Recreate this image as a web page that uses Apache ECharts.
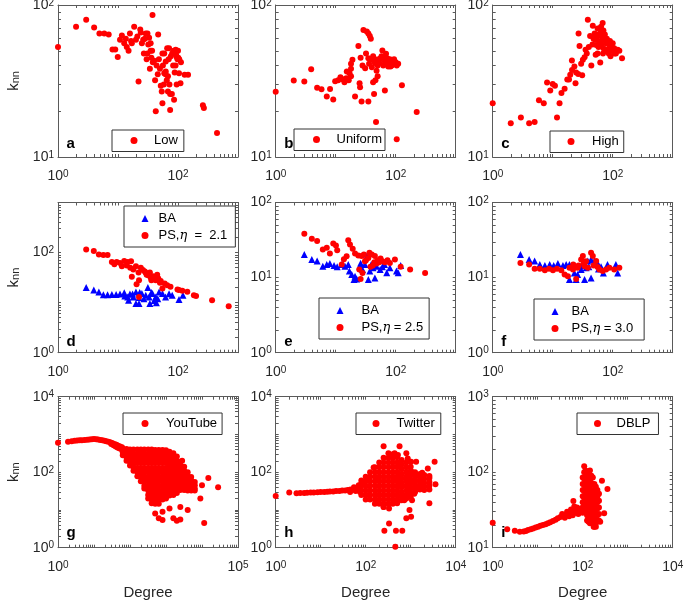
<!DOCTYPE html>
<html>
<head>
<meta charset="utf-8">
<script src="https://cdn.jsdelivr.net/npm/echarts@6/dist/echarts.min.js"></script>
<style>
  html, body { margin: 0; padding: 0; background: #fff; }
  #chart { width: 685px; height: 601px; }
</style>
</head>
<body>
<div id="chart"></div>
<script>
// ---- data (degree, k_nn) ----
const lowData = [
  [1,53],[2,72],[2.95,80],[4,71],[4.9,65],[5.9,65],[7,64],[8.1,51],[9,51],[9.9,45.5],
  [10.8,59],[11.6,63],[12.7,56],[13.5,60],[14,53],[15,50],[15.8,65],[16.5,58],[17,56],[18.6,72],
  [19.9,59],[21,62],[22,31.4],[23.5,69],[24,66],[25,56],[26.3,59],[27,48],[28,60],[29,65],
  [30,44],[31,65],[31,48],[32,55],[33,61],[34,38],[35,56],[35,50],[36,45],[37,50],
  [37.6,86],[38,42],[40,43],[41.5,32],[42.6,20],[44,40],[46,35],[46.7,64],[48,44],[50,38],
  [51.6,29.4],[53.6,27],[55,22.6],[55,48],[56,40],[58,30],[59,48],[59,35.5],[62,35],[62.5,42.5],
  [62.5,36.5],[65,32],[66,52],[68,27],[68,34],[70,44],[71,52],[72,30],[74,20.4],[74,26],
  [76,46],[79,26],[80,48],[83,40],[85,50],[86,23.8],[88,36],[91,40],[91.6,50.7],[93,47],
  [95,45.5],[95,30],[98,44],[100,50],[101,45],[104,35.5],[105,44],[110,30.6],[112,42],[129,34.7],
  [147,34.7],[260,21.9],[270,21],[447,14.4]
];
const uniformData = [
  [1,26.9],[2,31.9],[3,31.4],[3.9,37.8],[4.9,28.6],[5.8,27.9],[7.1,25],[8.05,28],[9.1,23.9],[9.8,31.5],
  [11,32],[12,33.5],[13,32.5],[14,31],[15,33],[15.3,36.5],[16.5,32],[17,35.5],[18,34],[18,38],
  [18,41],[19,43.6],[21,25],[23.9,53.8],[25,30.6],[25.5,28.8],[26,45],[27,23.2],[28,40],[29,68.5],
  [31,38.4],[32,48],[33,67],[35,65],[35,44.7],[35,23.2],[36,41],[37,62.5],[38.5,60],[40,43.6],
  [40,39],[42,46],[42,31],[43.6,26],[45,41.5],[45,44],[46,32],[47,17],[48,37],[50,34],
  [50,40],[52,44],[53.5,41.5],[56,44.7],[58,46],[60,50.1],[62,40],[64,45],[66,42.5],[66,27.4],
  [69,47.8],[70,41],[72,44.7],[75,39.4],[76,42.5],[80,44],[82,39.4],[86,40],[88,43],[92,41],
  [94,44],[97,41],[100,42],[104,40],[110,41],[127,29.7],[104,13.1],[224,19.8]
];
const highData = [
  [1,22.6],[2,16.7],[2.95,18.2],[4.05,16.7],[5,17],[5.9,23.6],[7.1,22.6],[8.05,30.9],[9.1,27.4],[10,30.2],
  [10.9,29.4],[11.8,18.2],[13,22.6],[14,26.4],[15.8,28.1],[17.5,32.3],[18.7,32.3],[19.6,34.7],[21,37.4],[23,39.4],
  [24,30.6],[24.6,36],[26.6,35.2],[20.9,43.2],[27,65],[28,53.8],[29.8,41],[31.8,43.6],[34,45.3],[31,34.5],
  [35.3,50.7],[37,48],[38.5,80],[40,53],[42,62.5],[44,40],[46.6,73],[50,65],[51.5,59],[53,54.5],
  [56,70],[58,53],[60,56],[64,67],[66,62],[69,48],[72,59],[78,56],[82,50.7],[88,53],
  [94,50],[100,56],[106,52],[113,48],[121,50.7],[129,50],[143,44.7],[62,41.8],[68,76],[64,72],
  [48,60],[55,62],[58,64],[62,58],[66,55],[70,52],[74,64],[80,60],[84,56],[90,58],
  [96,54],[76,50],[86,48],[92,46],[102,50],[108,48],[56,48],[52,47],[60,70],[70,68],[46,55]
];
const baD = [
  [2.95,20],[3.95,17.8],[4.8,16.4],[5.7,14.3],[6.7,14.3],[7.9,14.5],[9.3,14.5],[10.8,14.8],[12.7,15.7],[13,13.5],
  [14.5,13],[15,11.2],[15.8,14.8],[17.5,14.8],[18,13],[19.9,16.4],[19.9,9.6],[22.4,9.6],[22.4,12.7],[23,16],
  [25,15.2],[27,12],[29,14.1],[31.5,20],[33,13],[34,9.6],[36,16],[37.6,15.2],[40,11],[42.6,13],
  [43.6,9.9],[46,12],[48.4,16.4],[55,15.2],[62,13],[71,15],[80,14],[104,11.6],[121,14]
];
const psD = [
  [2.95,115],[3.95,108],[4.8,91],[5.7,89],[6.7,89],[7.9,65],[8.7,58.5],[9.5,65],[10.8,62],[11.6,53],
  [12.7,68],[14,55],[14.5,65],[16,50],[16.5,67],[17,33],[18,46],[19.9,53],[20.4,23.4],[22,40],
  [22.4,28],[22.4,13],[24,50],[26,45],[28,42],[29,39.3],[30,36],[32,35.3],[34,40],[35,31.8],
  [36,28],[38.5,33.8],[40,32],[42.6,28],[44,30],[45,36],[47,30.3],[50,25],[51.6,27.2],[55,19.2],
  [60,24],[66,22.3],[75,20.7],[98,18.3],[104,17.8],[118,17.2],[143,16.5],[184,14],[200,13.5],[370,11.2],
  [700,8.5]
];
const baE = [
  [3,20.3],[4,17.4],[4.9,16.6],[6.1,14.2],[7.1,14.9],[8,15.4],[9.4,14.5],[10.6,13.9],[12.6,14.9],[14.3,14.2],
  [16.2,14.9],[16.9,12.2],[18.5,11],[20.2,9.4],[21,10.4],[22.4,9.6],[25.5,14.2],[26,15.5],[28,12.8],[30.7,14.9],
  [33,19.4],[35,9.4],[37,12.2],[39,15],[42,13.5],[45,9.9],[48,14.2],[55,12.8],[60,14],[65,15],
  [71,11.6],[80,13.5],[103,12.2],[110,11.6],[121,14.5]
];
const psE = [
  [3,38.5],[4,33],[4.9,30.7],[6.1,23.7],[7.1,25],[8,21],[9.1,28.5],[10.1,26.8],[10.6,23.2],[12.6,14.9],
  [13.7,17.5],[15.2,19.3],[16.2,31.5],[17.3,27.6],[19.2,24.2],[21,21],[23.8,19.7],[24.7,12.8],[26,9.6],[27,19.4],
  [28,11.5],[29.5,20.3],[30.7,16.5],[32,17],[35,18.3],[36.5,21.4],[38,14],[40,20.3],[41.5,14.5],[44,16],
  [45,19.4],[48,15.4],[50,17],[53,16],[56,18],[60,16.5],[66,16],[73,17],[80,15.7],[97,17.4],
  [121,13.9],[174,12.8],[309,11.5]
];
const baF = [
  [2.9,20.3],[4.05,17.4],[5,16.6],[6.1,14.9],[7.4,14.5],[8.9,14.9],[10.4,14.5],[12.2,15.4],[14.8,14.5],[16.8,14.9],
  [19,14.9],[19,9.4],[23,11.5],[24.6,9.4],[26,11],[29.8,12.8],[31,14.5],[34,9.4],[36,13.5],[38.5,16.6],
  [40,14],[43.6,17.4],[43.6,9.9],[49.5,16.6],[56,15.7],[58,13],[64,14],[70,11.5],[82,14.9],[113,14.9],
  [121,11.5]
];
const psF = [
  [2.9,15.7],[4.05,14.9],[5,13.1],[6.1,13.1],[7.4,12.5],[8.7,13.1],[10.1,12.5],[11.8,13.1],[13.9,12.5],[15.8,11],
  [17.9,10.4],[19,13.5],[21.8,12.8],[22,15],[24.6,9.6],[26,13.5],[27,14.5],[29.8,17.4],[31.8,19.4],[33,15.5],
  [34,14.2],[36,16.5],[38.5,13.5],[43.6,21.4],[46.6,19.4],[48,14.5],[53,16.6],[56,13.8],[60,12.8],[68,12.2],
  [77.6,12.8],[88,13.5],[106,12.8],[129,13.5]
];
// empirical networks: the leading strand, then the cloud as columns [degree, [k_nn ...]], then stray points
const youtubeLine = [
  [1,600],[1.9,640],[2.4,660],[2.9,680],[3.4,690],[4,700],[4.6,705],[5.5,710],[6.5,720],[7.5,740],
  [8.7,745],[10,760],[11.5,750],[13,730],[15,715],[17,700],[19.5,680],[22,660],[25,640],[28,620],
  [32,590],[37,560],[42,530],[47,500],[53,480],[60,460],[30,560],[35,520],[40,480],[45,450],[50,430],[56,410]
];
const youtubeCloud = [
  [63,[420,340,280]],
  [80,[410,320,250,200]],
  [100,[400,310,240,185,150]],
  [125,[400,300,230,175,135,110]],
  [160,[400,300,230,175,130,100,78]],
  [200,[400,300,230,175,130,100,76,58]],
  [250,[400,300,230,175,130,100,76,58,44,37]],
  [320,[400,300,230,175,130,100,76,58,44,33,25,20]],
  [400,[400,300,230,175,130,100,76,58,44,33,25,19,15]],
  [500,[390,300,230,175,130,100,76,58,44,33,25,19,14.5,8]],
  [630,[390,300,230,175,130,100,76,58,44,33,25,19,14.5,6]],
  [800,[390,300,230,175,130,100,76,58,44,33,25,19,9,5.4]],
  [1000,[380,300,230,175,130,100,76,58,44,33,25,20]],
  [1250,[350,270,210,160,125,95,72,55,42,32,24,11]],
  [1600,[316,250,190,150,115,88,68,52,40,31,25,6]],
  [2000,[260,200,155,120,92,70,54,42,33,28,5.2]],
  [2500,[190,150,115,90,70,54,42,34,12,5.6]],
  [3200,[140,110,85,66,52,41,34]],
  [4000,[100,80,62,48,38,33,10]],
  [5000,[75,60,47,38,33]],
  [6300,[55,45,37,33]]
];
const youtubeStray = [[2800,200],[10000,45],[9000,20],[15000,70],[28000,40],[11500,4.5]];

const twitterLine = [
  [1,23.4],[2,29],[2.9,27.5],[3.5,28],[4.3,28],[5,28.5],[6,29],[7,29],[8.5,29.5],[10,30],
  [12,30],[14,30.5],[16,31],[19,31],[22,32],[26,32],[30,33],[35,33],[40,34],[46,35],
  [52,35],[58,36],[65,37],[45,30],[55,40],[60,32],[70,45],[75,30],[80,50]
];
const twitterCloud = [
  [80,[60,44,33,25]],
  [100,[76,58,44,33,25,19]],
  [125,[100,76,58,44,33,25,19]],
  [160,[135,100,76,58,44,33,25,19,14.5]],
  [200,[180,135,100,76,58,44,33,25,19,14.5]],
  [250,[240,180,135,100,76,58,44,33,25,19,14.5,12]],
  [320,[320,240,180,135,100,76,58,44,33,25,19,14.5]],
  [400,[300,240,180,135,100,76,58,44,33,25,19,14.5]],
  [500,[250,180,135,100,76,58,44,33,25,19,15]],
  [630,[210,160,120,90,68,52,40,30,23,18]],
  [800,[180,135,100,76,58,44,33,25,20]],
  [1000,[140,110,84,64,50,38,29,22]],
  [1250,[100,80,62,48,38,30]],
  [1600,[90,72,56,44,35]],
  [2000,[84,66,52,42,34]],
  [2600,[70,55,44,35]]
];
const twitterStray = [
  [250,490],[565,490],[440,316],[520,285],[800,316],[860,230],[150,134],[1020,190],[1320,190],[1800,97],
  [2400,126],[2600,79],[3400,190],[3550,48],[2600,15],[250,12],[330,11],[800,6],[1020,6.6],[940,10],
  [330,4.4],[260,2.8],[470,2.8],[650,2.8],[455,1.06],[720,18],[1070,18],[1200,27],[1100,100]
];

const dblpLine = [
  [1,21.4],[2.1,17.5],[3.1,16.8],[4,16.3],[4.9,16.4],[5.5,16.6],[6.1,17.1],[7,17.5],[7.9,18],[9,18.5],
  [10.2,19],[11.5,19.5],[13.1,20],[15,20.5],[16.9,21],[19,21.7],[21.8,22.5],[25,23.5],[28,24.5],[32,25.5],
  [36,26.3],[41,27],[46.6,27.9],[50,28.5],[55,29],[60,30],[66,31],[72,31],[78,31.5],[85,32],
  [92,33],[35,28],[40,25],[45,30],[50,26],[55,32],[60,27],[65,35],[62,41.5],[70,29],
  [75,34],[80,28],[88,30]
];
const dblpSpike = [
  [100,[85,70,58,48,40,34,29]],
  [108,[120,100,82,68,56,46,38,32]],
  [116,[105,88,72,60,50,42,35,30]],
  [125,[100,82,68,56,46,38,32,27,23]],
  [135,[95,78,64,52,43,36,30,25,22]],
  [145,[105,80,66,54,44,36,30,25,21]],
  [156,[90,72,58,48,40,33,27,22]],
  [168,[85,68,55,45,37,30,25,21]],
  [182,[70,58,48,40,33,27,22,19]],
  [196,[64,52,43,35,29,24,19]],
  [212,[58,48,40,33,27,22]],
  [230,[52,42,34,28,23]]
];
const dblpStray = [[268,77],[355,60],[300,28.5],[245,22],[175,19],[190,20],[95,30]];

// tick marks sit at m * 10^k
const tickMantissas = [1, 2, 3, 4, 5, 6, 7, 8, 9];

function unpack(cols) {
  return cols.flatMap(([x, ys]) => ys.map(y => [x, y]));
}
const youtubeData = youtubeLine.concat(unpack(youtubeCloud), youtubeStray);
const twitterData = twitterLine.concat(unpack(twitterCloud), twitterStray);
const dblpData = dblpLine.concat(unpack(dblpSpike), dblpStray);

const FONT = '"Liberation Sans", Arial, Helvetica, sans-serif';
const AXIS_COLOR = '#5a5a5a';
const TEXT_COLOR = '#262626';
const RED = '#ff0000';
const BLUE = '#0000ff';

const colLeft = [58, 275.7, 492.7];
const rowTop = [5, 202.5, 396.7];
const rowHeight = [152, 150.2, 151];
const plotWidth = 180;

const red = (name, data) => ({ name, data, symbol: 'circle', size: 6, color: RED });
const blue = (name, data) => ({ name, data, symbol: 'triangle', size: 7, color: BLUE });

// legend boxes: left/top of the frame, inner left/right padding, gap between marker and text
const panels = [
  { tag: 'a', col: 0, row: 0, x: [1, 1e3], y: [10, 100], xLab: [0, 2], yLab: [1, 2], tagY: 151,
    series: [red('Low', lowData)], legend: { left: 112, top: 130, padL: 18.5, padR: 6, gap: 11.5 } },
  { tag: 'b', col: 1, row: 0, x: [1, 1e3], y: [10, 100], xLab: [0, 2], yLab: [1, 2], tagY: 151,
    series: [red('Uniform', uniformData)], legend: { left: 294, top: 129, padL: 19, padR: 3, gap: 11.5 } },
  { tag: 'c', col: 2, row: 0, x: [1, 1e3], y: [10, 100], xLab: [0, 2], yLab: [1, 2], tagY: 151,
    series: [red('High', highData)], legend: { left: 550, top: 131, padL: 17.5, padR: 5, gap: 12.5 } },
  { tag: 'd', col: 0, row: 1, x: [1, 1e3], y: [1, 1e3], xLab: [0, 2], yLab: [0, 2], tagY: 349,
    series: [blue('BA', baD), red('PS,η  =  2.1', psD)], legend: { left: 124, top: 206, padL: 17.5, padR: 8, gap: 5 } },
  { tag: 'e', col: 1, row: 1, x: [1, 1e3], y: [1, 100], xLab: [0, 2], yLab: [0, 1, 2], tagY: 349,
    series: [blue('BA', baE), red('PS,η = 2.5', psE)], legend: { left: 319, top: 298, padL: 17.5, padR: 6, gap: 13 } },
  { tag: 'f', col: 2, row: 1, x: [1, 1e3], y: [1, 100], xLab: [0, 2], yLab: [0, 1, 2], tagY: 349,
    series: [blue('BA', baF), red('PS,η = 3.0', psF)], legend: { left: 534, top: 299, padL: 17.5, padR: 11, gap: 8 } },
  { tag: 'g', col: 0, row: 2, x: [1, 1e5], y: [1, 1e4], xLab: [0, 5], yLab: [0, 2, 4], tagY: 540,
    series: [red('YouTube', youtubeData)], legend: { left: 123, top: 413, padL: 18.5, padR: 5, gap: 12.5 } },
  { tag: 'h', col: 1, row: 2, x: [1, 1e4], y: [1, 1e4], xLab: [0, 2, 4], yLab: [0, 2, 4], tagY: 540,
    series: [red('Twitter', twitterData)], legend: { left: 356, top: 413, padL: 16.5, padR: 6, gap: 12 } },
  { tag: 'i', col: 2, row: 2, x: [1, 1e4], y: [10, 1e3], xLab: [0, 2, 4], yLab: [1, 2, 3], tagY: 540,
    series: [red('DBLP', dblpData)], legend: { left: 577, top: 413, padL: 17, padR: 8, gap: 10.5 } }
];

function tickValues(min, max) {
  const out = [];
  for (let d = min; d < max * 0.999; d *= 10) {
    tickMantissas.forEach(m => out.push(m * d));
  }
  out.push(max);
  return out;
}

function powerLabel(shown) {
  return function (v) {
    const lg = Math.log10(v);
    const e = Math.round(lg);
    if (Math.abs(lg - e) > 1e-6 || shown.indexOf(e) < 0) return '';
    return '{b|10}{s|' + e + '}';
  };
}

const supRich = {
  b: { fontSize: 14, lineHeight: 14, fontFamily: FONT, color: TEXT_COLOR, padding: [4, 0, 0, 0], verticalAlign: 'bottom' },
  s: { fontSize: 10, lineHeight: 10, fontFamily: FONT, color: TEXT_COLOR, verticalAlign: 'top' }
};

const grids = [], xAxes = [], yAxes = [], series = [], legends = [], graphics = [];

panels.forEach((p, i) => {
  const left = colLeft[p.col];
  const top = rowTop[p.row];
  const height = rowHeight[p.row];
  grids.push({ left, top, width: plotWidth, height, containLabel: false, outerBoundsMode: 'none' });

  const line = { show: true, lineStyle: { color: AXIS_COLOR, width: 1 } };
  const tickX = { show: true, inside: true, length: 3, customValues: tickValues(p.x[0], p.x[1]), lineStyle: { color: AXIS_COLOR } };
  const tickY = { show: true, inside: true, length: 3, customValues: tickValues(p.y[0], p.y[1]), lineStyle: { color: AXIS_COLOR } };

  xAxes.push({
    type: 'log', logBase: 10, gridIndex: i, position: 'bottom', min: p.x[0], max: p.x[1],
    axisLine: line, axisTick: tickX, splitLine: { show: false },
    axisLabel: { interval: 0, margin: 12.5, formatter: powerLabel(p.xLab), rich: supRich, showMinLabel: true, showMaxLabel: true },
    name: p.row === 2 ? 'Degree' : '', nameLocation: 'middle', nameGap: 38,
    nameTextStyle: { fontFamily: FONT, fontSize: 15, color: TEXT_COLOR }
  });
  xAxes.push({
    type: 'log', logBase: 10, gridIndex: i, position: 'top', min: p.x[0], max: p.x[1],
    axisLine: line, axisTick: tickX, splitLine: { show: false }, axisLabel: { show: false }
  });
  yAxes.push({
    type: 'log', logBase: 10, gridIndex: i, position: 'left', min: p.y[0], max: p.y[1],
    axisLine: line, axisTick: tickY, splitLine: { show: false },
    axisLabel: { interval: 0, margin: 4, formatter: powerLabel(p.yLab), rich: supRich, showMinLabel: true, showMaxLabel: true },
    name: p.col === 0 ? '{k|k}{n|nn}' : '', nameLocation: 'middle', nameRotate: 90, nameGap: 37,
    nameTextStyle: {
      rich: {
        k: { fontSize: 15, lineHeight: 15, fontFamily: FONT, color: TEXT_COLOR, verticalAlign: 'top' },
        n: { fontSize: 11, lineHeight: 11, fontFamily: FONT, color: TEXT_COLOR, verticalAlign: 'bottom', padding: [6, 0, 0, 0] }
      }
    }
  });
  yAxes.push({
    type: 'log', logBase: 10, gridIndex: i, position: 'right', min: p.y[0], max: p.y[1],
    axisLine: line, axisTick: tickY, splitLine: { show: false }, axisLabel: { show: false }
  });

  p.series.forEach(s => {
    series.push({
      type: 'scatter', name: s.name, xAxisIndex: 2 * i, yAxisIndex: 2 * i,
      data: s.data, symbol: s.symbol, symbolSize: s.size,
      itemStyle: { color: s.color, opacity: 1 }, silent: true
    });
  });

  const lg = p.legend;
  const twoRows = p.series.length > 1;
  legends.push({
    data: p.series.map(s => s.name), left: lg.left, top: lg.top, orient: 'vertical',
    itemWidth: 7, itemHeight: 7, itemGap: 2,
    padding: twoRows ? [5, lg.padR, 4, lg.padL] : [3, lg.padR, 3.5, lg.padL],
    borderColor: '#333', borderWidth: 1, borderRadius: 0, backgroundColor: '#fff',
    selectedMode: false,
    formatter: name => '{g| }' + name.replace('η', '{e|η}'),
    textStyle: {
      fontFamily: FONT, fontSize: 13, lineHeight: 15, color: '#000',
      rich: {
        g: { width: lg.gap, lineHeight: 15, fontSize: 13 },
        e: { fontFamily: '"DejaVu Serif", serif', fontStyle: 'italic', fontSize: 13, lineHeight: 15, color: '#000' }
      }
    }
  });

  graphics.push({
    type: 'text', x: left + 8.5, y: p.tagY, z: 100,
    style: { text: p.tag, font: 'bold 15px ' + FONT, fill: '#000', align: 'left', verticalAlign: 'bottom' }
  });
});

const chart = echarts.init(document.getElementById('chart'), null, { renderer: 'canvas' });
chart.setOption({
  animation: false,
  backgroundColor: '#fff',
  grid: grids,
  xAxis: xAxes,
  yAxis: yAxes,
  series: series,
  legend: legends,
  graphic: graphics
});
</script>
</body>
</html>
